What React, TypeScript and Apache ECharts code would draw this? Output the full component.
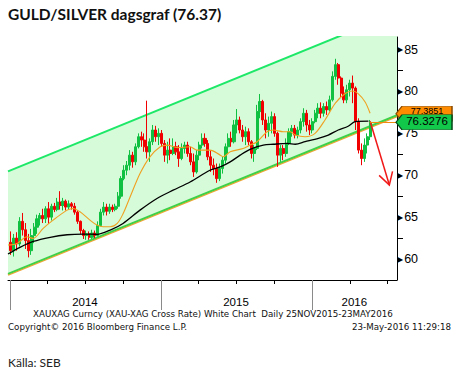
import React, { useEffect, useRef } from 'react';
import * as echarts from 'echarts';

const TITLE = 'GULD/SILVER dagsgraf (76.37)';
const SOURCE = 'Källa: SEB';
const FOOT_1 = 'XAUXAG Curncy (XAU-XAG Cross Rate) White Chart  Daily 25NOV2015-23MAY2016';
const FOOT_2 = 'Copyright\u00A9 2016 Bloomberg Finance L.P.';
const FOOT_3 = '23-May-2016 11:29:18';

// x values are days since 1 Jan 2014
const X_MIN = -5;
const X_MAX = 935;
const FIRST_WEEK_DAY = 2; // Fri 3 Jan 2014
const WEEK_DAYS = 7;

// weekly candles: [open, close, low, high]
const weeklyOHLC: number[][] = [
  [62.0, 61.0, 60.5, 63.3], [61.0, 62.5, 60.3, 63.0], [62.5, 61.8, 61.0, 63.2], [61.8, 64.5, 61.5, 65.0],
  [64.5, 63.5, 62.8, 65.5], [63.5, 62.2, 61.2, 64.3], [62.2, 61.0, 60.2, 63.0], [61.0, 62.8, 60.5, 63.6],
  [62.8, 63.8, 61.9, 64.3], [63.8, 64.8, 63.0, 65.3], [64.8, 65.2, 64.0, 65.5], [65.2, 64.8, 64.3, 66.0],
  [64.8, 66.0, 64.3, 66.3], [66.0, 65.0, 64.2, 66.8], [65.0, 66.3, 64.6, 66.6], [66.3, 65.9, 65.6, 66.7],
  [65.9, 66.8, 65.7, 67.3], [66.8, 66.4, 65.9, 68.1], [66.4, 66.9, 65.8, 67.3], [66.9, 66.2, 65.8, 67.1],
  [66.2, 66.6, 65.9, 67.0], [66.6, 66.3, 65.9, 66.8], [66.3, 65.6, 65.3, 66.7], [65.6, 64.5, 64.2, 65.8],
  [64.5, 63.4, 63.0, 64.6], [63.4, 62.8, 62.4, 63.6], [62.8, 63.0, 62.3, 63.4], [63.0, 62.6, 62.3, 63.3],
  [62.6, 63.1, 62.4, 63.5], [63.1, 62.8, 62.5, 63.4], [62.8, 64.0, 62.7, 64.5], [64.0, 65.6, 63.9, 66.0],
  [65.6, 66.2, 65.2, 66.8], [66.2, 65.7, 65.2, 66.6], [65.7, 66.2, 65.4, 66.6], [66.2, 65.9, 65.6, 66.5],
  [65.9, 66.3, 65.7, 66.6], [66.3, 67.5, 66.0, 68.0], [67.5, 69.6, 67.2, 69.9], [69.6, 70.6, 69.4, 71.2],
  [70.6, 71.2, 70.0, 71.7], [71.2, 72.4, 70.6, 73.0], [72.4, 71.6, 70.9, 72.8], [71.6, 73.4, 71.2, 73.8],
  [73.4, 74.6, 73.2, 75.0], [74.6, 74.2, 73.4, 75.2], [74.2, 73.4, 72.8, 75.0], [73.4, 72.8, 72.0, 78.9],
  [72.8, 74.0, 71.6, 74.4], [74.0, 75.4, 73.6, 76.0], [75.4, 74.6, 74.0, 75.9], [74.6, 75.0, 73.6, 75.6],
  [75.0, 73.8, 73.4, 75.4], [73.8, 72.4, 71.6, 74.2], [72.4, 73.0, 71.4, 74.0], [73.0, 72.6, 71.8, 74.4],
  [72.6, 73.4, 72.4, 74.4], [73.4, 72.8, 72.4, 74.0], [72.8, 72.0, 71.0, 73.6], [72.0, 73.2, 71.8, 73.8],
  [73.2, 73.6, 72.6, 74.0], [73.6, 72.6, 72.2, 74.0], [72.6, 71.6, 71.2, 73.4], [71.6, 70.4, 69.8, 72.6],
  [70.4, 72.4, 70.2, 73.0], [72.4, 73.6, 71.8, 74.0], [73.6, 74.4, 73.2, 75.0], [74.4, 73.8, 73.4, 75.0],
  [73.8, 72.2, 71.8, 74.2], [72.2, 71.2, 70.4, 73.0], [71.2, 70.8, 70.0, 72.0], [70.8, 69.6, 69.1, 71.4],
  [69.6, 70.8, 69.3, 71.4], [70.8, 71.8, 70.2, 72.2], [71.8, 73.4, 71.4, 73.8], [73.4, 74.4, 72.6, 75.0],
  [74.4, 74.0, 73.4, 75.2], [74.0, 76.0, 73.8, 76.6], [76.0, 76.6, 75.0, 77.9], [76.6, 75.4, 75.0, 77.0],
  [75.4, 74.6, 74.0, 76.0], [74.6, 75.2, 73.6, 75.8], [75.2, 74.0, 73.6, 75.6], [74.0, 72.6, 72.0, 74.2],
  [72.6, 73.2, 71.6, 73.6], [73.2, 77.6, 73.0, 78.4], [77.6, 78.8, 76.8, 79.7], [78.8, 76.6, 76.0, 79.0],
  [76.6, 75.4, 74.4, 77.4], [75.4, 76.2, 74.6, 77.0], [76.2, 77.0, 75.0, 77.6], [77.0, 75.0, 74.6, 77.4],
  [75.0, 72.4, 71.0, 75.2], [72.4, 73.2, 71.6, 73.6], [73.2, 72.6, 71.8, 73.6], [72.6, 73.8, 72.2, 74.4],
  [73.8, 75.2, 73.6, 75.6], [75.2, 75.6, 74.6, 76.0], [75.6, 74.8, 74.4, 76.0], [74.8, 75.4, 74.4, 75.8],
  [75.4, 76.4, 75.0, 76.8], [76.4, 77.4, 75.8, 78.0], [77.4, 76.0, 75.2, 77.8], [76.0, 75.4, 74.8, 76.6],
  [75.4, 76.4, 75.0, 76.8], [76.4, 77.4, 76.2, 77.8], [77.4, 78.0, 76.8, 78.6], [78.0, 77.4, 76.8, 78.7],
  [77.4, 78.2, 77.0, 78.6], [78.2, 77.8, 77.2, 78.8], [77.8, 79.0, 77.6, 79.5], [79.0, 81.8, 78.8, 82.4],
  [81.8, 83.2, 81.4, 83.9], [83.2, 81.6, 80.8, 83.4], [81.6, 79.8, 79.2, 81.8], [79.8, 79.0, 78.6, 80.6],
  [79.0, 80.2, 78.6, 80.8], [80.2, 81.0, 79.4, 81.4], [81.0, 80.4, 78.6, 81.9], [80.4, 76.4, 75.4, 80.6],
  [76.4, 73.0, 72.6, 76.8], [73.0, 72.0, 71.2, 73.8], [72.0, 73.6, 71.6, 74.4], [73.6, 74.6, 72.6, 75.0],
  [74.6, 76.3, 74.2, 76.6],
];

// moving averages: [day, value]
const orangeMA: number[][] = [
  [-5, 61.67], [17, 61.87], [41, 62.66], [56, 62.46], [80, 63.66], [104, 64.65], [138, 65.84],
  [152, 66.04], [169, 65.64], [193, 64.65], [210, 64.05], [225, 63.85], [242, 63.85], [259, 64.25],
  [273, 65.4], [290, 67.4], [314, 70.2], [338, 72.2], [363, 73.4], [380, 73.6], [404, 73.3],
  [435, 73.4], [452, 73.0], [483, 73.0], [508, 72.4], [515, 72.2], [532, 72.8], [563, 73.2],
  [580, 73.6], [597, 74.0], [621, 75.2], [636, 75.4], [660, 75.2], [677, 75.2], [689, 74.8],
  [713, 74.6], [737, 75.0], [761, 76.6], [786, 78.6], [810, 79.75], [827, 80.06], [841, 79.75],
  [858, 78.75], [870, 77.4],
];
const blackMA: number[][] = [
  [-5, 60.6], [24, 61.4], [56, 62.1], [97, 62.6], [138, 62.9], [176, 62.98], [210, 62.95],
  [242, 63.46], [273, 64.25], [314, 65.84], [355, 67.23], [394, 68.22], [435, 69.2], [483, 70.6],
  [508, 71.0], [532, 71.6], [556, 72.4], [580, 73.1], [612, 73.6], [636, 73.7], [670, 73.8],
  [689, 73.7], [713, 74.0], [745, 74.4], [769, 74.8], [793, 75.4], [817, 75.85], [834, 76.4],
  [866, 76.45],
];

const channelUpper: number[][] = [[-5, 70.47], [935, 89.4]];
const channelLower: number[][] = [[-5, 58.23], [935, 77.16]];

const LAST_DAY = 870;
const lastPrice = 76.3276;
const orangeLevel = 77.35;
const orangeLevelText = '77.3851';
const arrowFromTo: number[] = [870, 76.45, 916.5, 68.84];

const yLabelValues = [60, 65, 70, 75, 80, 85];
const yMinorTicks = [62.5, 67.5, 72.5, 77.5, 82.5];
const quarterDays = [0, 90, 181, 273, 365, 455, 546, 638, 730, 821, 912];
const yearStartDays = [0, 365, 730];
const yearLabelDays = [181, 546, 832];
const yearLabels = ['2014', '2015', '2016'];

export default function App() {
  const ref = useRef<HTMLDivElement>(null);
  useEffect(() => {
    if (!ref.current) return;
    const chart = echarts.init(ref.current, null, { renderer: 'svg' });
    const candles = weeklyOHLC.map((c, i) => [FIRST_WEEK_DAY + i * WEEK_DAYS, c[0], c[1], c[2], c[3]]);
    const option: any = {
      animation: false,
      backgroundColor: '#fff',
      grid: { left: 8, right: 62, top: 37, height: 243, containLabel: false },
      xAxis: [
        {
          type: 'value', min: X_MIN, max: X_MAX, position: 'bottom',
          axisLine: { show: true, onZero: false, lineStyle: { color: '#000', width: 1 } },
          axisTick: { show: true, customValues: quarterDays, length: 4, lineStyle: { color: '#000' } },
          axisLabel: {
            show: true, customValues: yearLabelDays, margin: 16,
            formatter: (v: number) => yearLabels[yearLabelDays.indexOf(v)] ?? '',
            color: '#000', fontSize: 11.5, fontFamily: 'Liberation Sans',
          },
          splitLine: { show: false },
        },
        {
          type: 'value', min: X_MIN, max: X_MAX, position: 'bottom',
          axisLine: { show: false, onZero: false },
          axisTick: { show: true, customValues: yearStartDays, length: 30, lineStyle: { color: '#8a8a8a' } },
          axisLabel: { show: false },
          splitLine: { show: false },
        },
      ],
      yAxis: {
        type: 'value', min: 57.5, max: 86.5, position: 'right',
        axisLine: { show: true, onZero: false, lineStyle: { color: '#000', width: 1 } },
        axisTick: { show: true, customValues: yMinorTicks, length: 6, lineStyle: { color: '#000' } },
        axisLabel: {
          show: true, customValues: yLabelValues, margin: 0,
          formatter: (v: number) => `{t|\u25B6}{n|${v}}`,
          rich: {
            t: { fontSize: 8, fontFamily: 'DejaVu Sans', color: '#000', padding: [0, 1, 0, 0] },
            n: { fontSize: 12.5, fontFamily: 'Liberation Sans', color: '#000' },
          },
        },
        splitLine: { show: false },
      },
      series: [
        {
          type: 'line', data: channelUpper, symbol: 'none', silent: true, z: 1,
          lineStyle: { color: '#1ee868', width: 2 },
          areaStyle: { color: '#d5fbd8', origin: 'start', opacity: 1 },
        },
        {
          type: 'line', data: channelLower, symbol: 'none', silent: true, z: 1,
          lineStyle: { color: '#3ed04a', width: 2, shadowColor: '#f0a030', shadowOffsetY: 1, shadowBlur: 0 },
          areaStyle: { color: '#ffffff', origin: 'start', opacity: 1 },
        },
        {
          type: 'candlestick', data: candles, encode: { x: 0, y: [1, 2, 3, 4] }, z: 2,
          barWidth: 2.6,
          itemStyle: { color: '#10c040', color0: '#f00000', borderColor: '#10c040', borderColor0: '#f00000', borderWidth: 1 },
          markLine: {
            silent: true, symbol: 'none', animation: false,
            label: { show: false },
            lineStyle: { color: '#f08a10', width: 1, type: 'solid' },
            data: [[{ coord: [LAST_DAY, lastPrice] }, { coord: [X_MAX, lastPrice] }]],
          },
          markPoint: {
            silent: true, animation: false,
            symbol: 'path://M0,6 L6,0 L56,0 L56,12 L6,12 Z',
            symbolSize: [56, 15], symbolOffset: [27, 0],
            data: [
              {
                coord: [X_MAX, orangeLevel], name: orangeLevelText,
                itemStyle: { color: '#ff8c00', borderColor: '#8a4a00', borderWidth: 0.8 },
                label: { show: true, position: 'inside', formatter: orangeLevelText, color: '#000', fontSize: 9, lineHeight: 9, fontFamily: 'Liberation Sans', offset: [3, -3] },
              },
              {
                coord: [X_MAX, lastPrice], name: String(lastPrice),
                itemStyle: { color: '#12c84a', borderColor: '#064a1a', borderWidth: 0.8 },
                label: { show: true, position: 'inside', formatter: String(lastPrice), color: '#000', fontSize: 11.5, lineHeight: 11, fontFamily: 'Liberation Sans', offset: [3, -1] },
              },
            ],
          },
        },
        {
          type: 'line', data: orangeMA, symbol: 'none', silent: true, z: 3, smooth: 0.3,
          lineStyle: { color: '#f0a020', width: 1.1 },
        },
        {
          type: 'line', data: blackMA, symbol: 'none', silent: true, z: 3, smooth: 0.3,
          lineStyle: { color: '#000', width: 1.3 },
        },
        {
          type: 'custom', z: 4, silent: true,
          data: [arrowFromTo],
          encode: { x: [0, 2], y: [1, 3] },
          renderItem: (_p: any, api: any) => {
            const p0 = api.coord([api.value(0), api.value(1)]);
            const p1 = api.coord([api.value(2), api.value(3)]);
            const dx = p1[0] - p0[0], dy = p1[1] - p0[1];
            const len = Math.hypot(dx, dy);
            const ux = dx / len, uy = dy / len;
            const L = 14, a = Math.PI / 6, ca = Math.cos(a), sa = Math.sin(a);
            const w1 = [p1[0] - L * (ux * ca - uy * sa), p1[1] - L * (uy * ca + ux * sa)];
            const w2 = [p1[0] - L * (ux * ca + uy * sa), p1[1] - L * (uy * ca - ux * sa)];
            return {
              type: 'group',
              children: [
                { type: 'line', shape: { x1: p0[0], y1: p0[1], x2: p1[0], y2: p1[1] }, style: { stroke: '#f01818', lineWidth: 1.5 } },
                { type: 'polyline', shape: { points: [w1, p1, w2] }, style: { stroke: '#f01818', lineWidth: 1.5, fill: null } },
              ],
            };
          },
        },
      ],
      graphic: [
        { type: 'text', left: 8, top: 6, style: { text: TITLE, font: 'bold 15.5px Lato', fill: '#111' } },
        { type: 'text', left: 33, top: 309, style: { text: FOOT_1, font: '8.7px "DejaVu Sans"', fill: '#111' } },
        { type: 'text', left: 8, top: 322, style: { text: FOOT_2, font: '8.7px "DejaVu Sans"', fill: '#111' } },
        { type: 'text', right: 8, top: 322, style: { text: FOOT_3, font: '8.7px "DejaVu Sans"', fill: '#111' } },
        { type: 'text', left: 8, top: 356, style: { text: SOURCE, font: '12px Lato', fill: '#222' } },
      ],
    };
    chart.setOption(option);
    return () => chart.dispose();
  }, []);
  return <div ref={ref} style={{ position: 'absolute', left: 0, top: 0, width: 459, height: 375 }} />;
}
